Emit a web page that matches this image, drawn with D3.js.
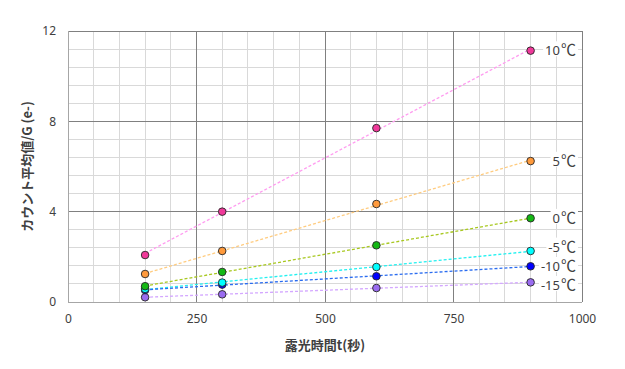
<!DOCTYPE html>
<html><head><meta charset="utf-8">
<script src="https://cdn.jsdelivr.net/npm/d3@7"></script>
<style>body{margin:0;background:#fff}svg{display:block}</style>
</head><body>
<svg id="c" width="625" height="369"></svg>
<script>
const exposureTimes = [150, 300, 600, 900];
const seriesNames = ["10℃", "5℃", "0℃", "-5℃", "-10℃", "-15℃"];
const values10 = [2.08, 4.0, 7.7, 11.13];
const values5 = [1.24, 2.26, 4.34, 6.24];
const values0 = [0.7, 1.33, 2.51, 3.71];
const valuesM5 = [0.58, 0.86, 1.55, 2.26];
const valuesM10 = [0.53, 0.77, 1.14, 1.58];
const valuesM15 = [0.21, 0.34, 0.62, 0.87];
const xTicks = [0, 250, 500, 750, 1000];
const yTicks = [0, 4, 8, 12];
const xTitle = "露光時間t(秒)";
const yTitle = "カウント平均値/G (e-)";

const allValues = [values10, values5, values0, valuesM5, valuesM10, valuesM15];
const markerColors = ["#f0399a", "#ff9a3c", "#14b814", "#00ffff", "#0000ff", "#9a6cf0"];
const trendColors = ["#ff9cf0", "#ffcc80", "#a8c820", "#22f0f0", "#2a6cf0", "#d4a8ff"];
const labelDy = [0, 0, 0, -4, 0, 3];

const svg = d3.select("#c");
const m = {l: 68, r: 625 - 582, t: 31, b: 369 - 302};
const W = 625, H = 369;
const x = d3.scaleLinear().domain([0, 1000]).range([m.l, W - m.r]);
const y = d3.scaleLinear().domain([0, 12]).range([H - m.b, m.t]);

const g = svg.append("g");
d3.range(0, 1001, 50).forEach(v => {
  if (v % 250 === 0) return;
  g.append("line").attr("x1", x(v)).attr("x2", x(v)).attr("y1", y(0)).attr("y2", y(12))
    .attr("stroke", "#d9d9d9").attr("stroke-width", 1).attr("shape-rendering", "crispEdges");
});
d3.range(0, 12.01, 0.8).forEach(v => {
  if (Math.abs(v % 4) < 1e-6 || Math.abs(v % 4 - 4) < 1e-6) return;
  g.append("line").attr("x1", x(0)).attr("x2", x(1000)).attr("y1", y(v)).attr("y2", y(v))
    .attr("stroke", "#d9d9d9").attr("stroke-width", 1).attr("shape-rendering", "crispEdges");
});
xTicks.slice(1).forEach(v => {
  g.append("line").attr("x1", x(v)).attr("x2", x(v)).attr("y1", y(0)).attr("y2", y(12))
    .attr("stroke", "#808080").attr("stroke-width", 1).attr("shape-rendering", "crispEdges");
});
yTicks.slice(1).forEach(v => {
  g.append("line").attr("x1", x(0)).attr("x2", x(1000)).attr("y1", y(v)).attr("y2", y(v))
    .attr("stroke", "#808080").attr("stroke-width", 1).attr("shape-rendering", "crispEdges");
});
g.append("line").attr("x1", x(0)).attr("x2", x(0)).attr("y1", y(0)).attr("y2", y(12))
  .attr("stroke", "#a6a6a6").attr("shape-rendering", "crispEdges");
g.append("line").attr("x1", x(0)).attr("x2", x(1000)).attr("y1", y(0)).attr("y2", y(0))
  .attr("stroke", "#a6a6a6").attr("shape-rendering", "crispEdges");

const font = "'Noto Sans', 'Liberation Sans', sans-serif";
const xAxis = d3.axisBottom(x).tickValues(xTicks).tickSize(0).tickPadding(12).tickFormat(d3.format("d"));
const xa = svg.append("g").attr("transform", `translate(0,${y(0)})`).call(xAxis);
xa.select(".domain").remove();
xa.selectAll("text").attr("font-family", font).attr("font-size", 12).attr("fill", "#404040");
const yAxis = d3.axisLeft(y).tickValues(yTicks).tickSize(0).tickPadding(12).tickFormat(d3.format("d"));
const ya = svg.append("g").attr("transform", `translate(${x(0)},0)`).call(yAxis);
ya.select(".domain").remove();
ya.selectAll("text").attr("font-family", font).attr("font-size", 12).attr("fill", "#404040");

function fit(xs, ys) {
  const n = xs.length, mx = d3.mean(xs), my = d3.mean(ys);
  let sxy = 0, sxx = 0;
  for (let i = 0; i < n; i++) { sxy += (xs[i] - mx) * (ys[i] - my); sxx += (xs[i] - mx) ** 2; }
  const b = sxy / sxx; return [b, my - b * mx];
}
allValues.forEach((vals, i) => {
  const [b, a] = fit(exposureTimes, vals);
  const x0 = d3.min(exposureTimes), x1 = d3.max(exposureTimes);
  svg.append("line").attr("x1", x(x0)).attr("y1", y(a + b * x0)).attr("x2", x(x1)).attr("y2", y(a + b * x1))
    .attr("stroke", trendColors[i]).attr("stroke-width", 1.3).attr("stroke-dasharray", "3,2");
});
for (let i = allValues.length - 1; i >= 0; i--) {
  svg.append("g").selectAll("circle").data(allValues[i]).join("circle")
    .attr("cx", (d, j) => x(exposureTimes[j])).attr("cy", d => y(d)).attr("r", 3.8)
    .attr("fill", markerColors[i]).attr("stroke", "#262626").attr("stroke-width", 0.9);
}
const jp = "'Noto Sans CJK JP', 'Noto Sans', sans-serif";
allValues.forEach((vals, i) => {
  const last = vals[vals.length - 1];
  const ly = y(last) + labelDy[i];
  const name = seriesNames[i];
  const t = svg.append("text").attr("x", 576).attr("y", ly).attr("dy", "0.36em")
    .attr("text-anchor", "end").attr("font-family", font).attr("font-size", 13).attr("fill", "#404040");
  t.append("tspan").text(name.slice(0, -1));
  t.append("tspan").attr("font-family", jp).attr("font-size", 15).attr("dx", 1).text(name.slice(-1));
  const bb = t.node().getBBox();
  svg.insert("rect", () => t.node()).attr("x", bb.x - 2).attr("y", bb.y + 3).attr("width", bb.width + 4).attr("height", bb.height - 6)
    .attr("fill", "#fff");
});
svg.append("text").attr("x", x(500)).attr("y", 350).attr("text-anchor", "middle")
  .attr("font-family", jp).attr("font-size", 13).attr("font-weight", "bold").attr("fill", "#404040").text(xTitle);
svg.append("text").attr("transform", `translate(32,${y(6)}) rotate(-90)`).attr("text-anchor", "middle")
  .attr("font-family", jp).attr("font-size", 13).attr("font-weight", "bold").attr("fill", "#404040").text(yTitle);
</script>
</body></html>
